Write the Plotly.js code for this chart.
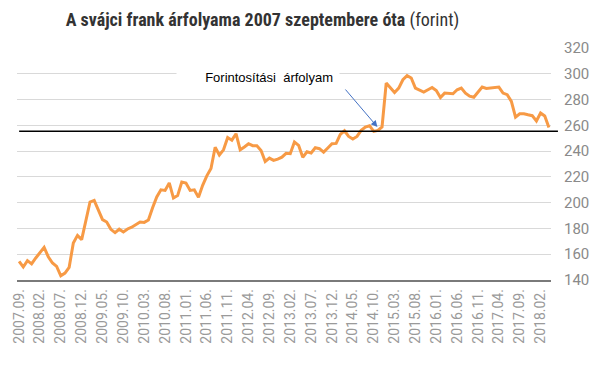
<!DOCTYPE html>
<html>
<head>
<meta charset="utf-8">
<script src="https://cdn.plot.ly/plotly-3.0.1.min.js"></script>
<style>html,body{margin:0;padding:0;background:#fff;}#chart{width:602px;height:380px;}</style>
</head>
<body>
<div id="chart"></div>
<script>
// Monthly categories (2007.09. – 2018.04.)
const months = [
  "2007.09.","2007.10.","2007.11.","2007.12.",
  "2008.01.","2008.02.","2008.03.","2008.04.","2008.05.","2008.06.","2008.07.","2008.08.","2008.09.","2008.10.","2008.11.","2008.12.",
  "2009.01.","2009.02.","2009.03.","2009.04.","2009.05.","2009.06.","2009.07.","2009.08.","2009.09.","2009.10.","2009.11.","2009.12.",
  "2010.01.","2010.02.","2010.03.","2010.04.","2010.05.","2010.06.","2010.07.","2010.08.","2010.09.","2010.10.","2010.11.","2010.12.",
  "2011.01.","2011.02.","2011.03.","2011.04.","2011.05.","2011.06.","2011.07.","2011.08.","2011.09.","2011.10.","2011.11.","2011.12.",
  "2012.01.","2012.02.","2012.03.","2012.04.","2012.05.","2012.06.","2012.07.","2012.08.","2012.09.","2012.10.","2012.11.","2012.12.",
  "2013.01.","2013.02.","2013.03.","2013.04.","2013.05.","2013.06.","2013.07.","2013.08.","2013.09.","2013.10.","2013.11.","2013.12.",
  "2014.01.","2014.02.","2014.03.","2014.04.","2014.05.","2014.06.","2014.07.","2014.08.","2014.09.","2014.10.","2014.11.","2014.12.",
  "2015.01.","2015.02.","2015.03.","2015.04.","2015.05.","2015.06.","2015.07.","2015.08.","2015.09.","2015.10.","2015.11.","2015.12.",
  "2016.01.","2016.02.","2016.03.","2016.04.","2016.05.","2016.06.","2016.07.","2016.08.","2016.09.","2016.10.","2016.11.","2016.12.",
  "2017.01.","2017.02.","2017.03.","2017.04.","2017.05.","2017.06.","2017.07.","2017.08.","2017.09.","2017.10.","2017.11.","2017.12.",
  "2018.01.","2018.02.","2018.03.","2018.04."
];

// CHF/HUF rate (forint)
const chfHuf = [
  154.4,150.1,155.0,152.5,
  157.1,161.4,165.3,158.0,153.2,150.5,143.3,145.4,149.8,168.7,174.6,171.3,
  186.8,200.5,201.8,194.0,186.8,185.0,179.3,176.8,179.4,177.3,179.6,181.0,
  182.7,185.0,184.7,186.5,196.0,204.4,210.0,209.5,215.3,203.6,205.5,216.0,
  215.3,209.5,210.0,204.1,213.5,220.8,226.5,243.0,237.0,241.0,250.5,248.5,
  253.5,241.0,243.2,245.7,244.2,244.2,240.5,232.0,234.6,232.8,233.8,235.3,
  238.3,238.0,247.1,244.5,235.2,239.5,238.5,242.6,241.9,239.2,242.4,245.7,
  246.0,253.0,255.8,251.4,249.4,251.4,256.1,258.7,259.7,255.3,256.1,258.7,
  292.8,288.9,285.5,288.9,295.4,298.5,296.7,288.9,287.1,285.8,287.6,289.4,
  287.0,281.5,285.0,285.0,284.5,287.6,288.9,285.0,282.6,281.8,286.0,289.7,
  288.6,289.0,289.0,289.7,285.0,283.8,278.6,266.4,269.0,269.0,268.2,267.5,
  263.4,269.6,267.2,258.3
];

// Tick labels shown on the x axis (every 5th month)
const tickLabels = [
  "2007.09.","2008.02.","2008.07.","2008.12.","2009.05.","2009.10.","2010.03.","2010.08.",
  "2011.01.","2011.06.","2011.11.","2012.04.","2012.09.","2013.02.","2013.07.","2013.12.",
  "2014.05.","2014.10.","2015.03.","2015.08.","2016.01.","2016.06.","2016.11.","2017.04.",
  "2017.09.","2018.02."
];

const yTicks = [140,160,180,200,220,240,260,280,300,320];
const pegRate = 255.5;
const pegLabel = "Forintosítási&nbsp;&nbsp;árfolyam";
const arrowTarget = {x: 85.9, y: 258.7};

const trace = {
  type: 'scatter', mode: 'lines',
  x: months, y: chfHuf,
  line: {color: '#F79A45', width: 3},
  hoverinfo: 'x+y'
};

const layout = {
  width: 602, height: 380,
  margin: {l: 17, r: 51, t: 48, b: 100, pad: 0},
  paper_bgcolor: '#fff', plot_bgcolor: '#fff',
  showlegend: false,
  font: {family: 'Roboto, sans-serif', color: '#999'},
  title: {
    text: '<b>A svájci frank árfolyama 2007 szeptembere óta</b> (forint)',
    font: {family: '"Roboto Condensed", "Liberation Sans Narrow", "DejaVu Sans Condensed", Roboto, sans-serif', size: 18, color: '#333'},
    xref: 'container', x: 0.436, xanchor: 'center',
    yref: 'container', y: 0.947, yanchor: 'middle'
  },
  xaxis: {
    type: 'category', categoryorder: 'array', categoryarray: months,
    range: [-0.5, months.length - 0.5],
    tickmode: 'array', tickvals: tickLabels, ticktext: tickLabels,
    tickangle: -90, tickfont: {size: 14, color: '#9a9a9a', family: 'Roboto, sans-serif'},
    showgrid: false, zeroline: false,
    showline: true, linecolor: '#7a7a7a', linewidth: 1.5,
    ticks: '', ticklabelstandoff: 2, fixedrange: true
  },
  yaxis: {
    range: [140, 320], side: 'right',
    tickmode: 'array', tickvals: yTicks,
    tickfont: {size: 15, color: '#8a8a8a', family: 'Roboto, sans-serif'},
    gridcolor: '#d9d9d9', gridwidth: 1,
    zeroline: false, showline: false, ticks: '',
    ticklabelstandoff: 12, fixedrange: true
  },
  shapes: [{
    type: 'line', xref: 'paper', yref: 'y',
    x0: 0.004, x1: 1.013, y0: pegRate, y1: pegRate,
    line: {color: '#000', width: 1.5}
  }],
  annotations: [
    {
      text: pegLabel, xref: 'paper', yref: 'y',
      x: 0.452, y: 297.2, xanchor: 'center', yanchor: 'middle',
      showarrow: false, bgcolor: '#fff', width: 150, align: 'right', borderpad: 6,
      font: {family: '"Liberation Sans", Arial, sans-serif', size: 13, color: '#000'}
    },
    {
      text: ' ', xref: 'x', yref: 'y',
      x: arrowTarget.x, y: arrowTarget.y,
      showarrow: true, arrowhead: 2, arrowsize: 1.3, arrowwidth: 1,
      arrowcolor: '#4472C4', ax: -35, ay: -41, standoff: 0, startstandoff: 0
    },
    {
      text: 'Forrás: MNB, Portfolio', xref: 'container', yref: 'container',
      x: 9 / 602, y: 1 - 368 / 380, xanchor: 'left', yanchor: 'middle',
      showarrow: false, font: {family: 'Roboto, sans-serif', size: 14, color: '#9a9a9a'}
    }
  ]
};

Plotly.newPlot('chart', [trace], layout, {displayModeBar: false, staticPlot: true});
</script>
</body>
</html>
